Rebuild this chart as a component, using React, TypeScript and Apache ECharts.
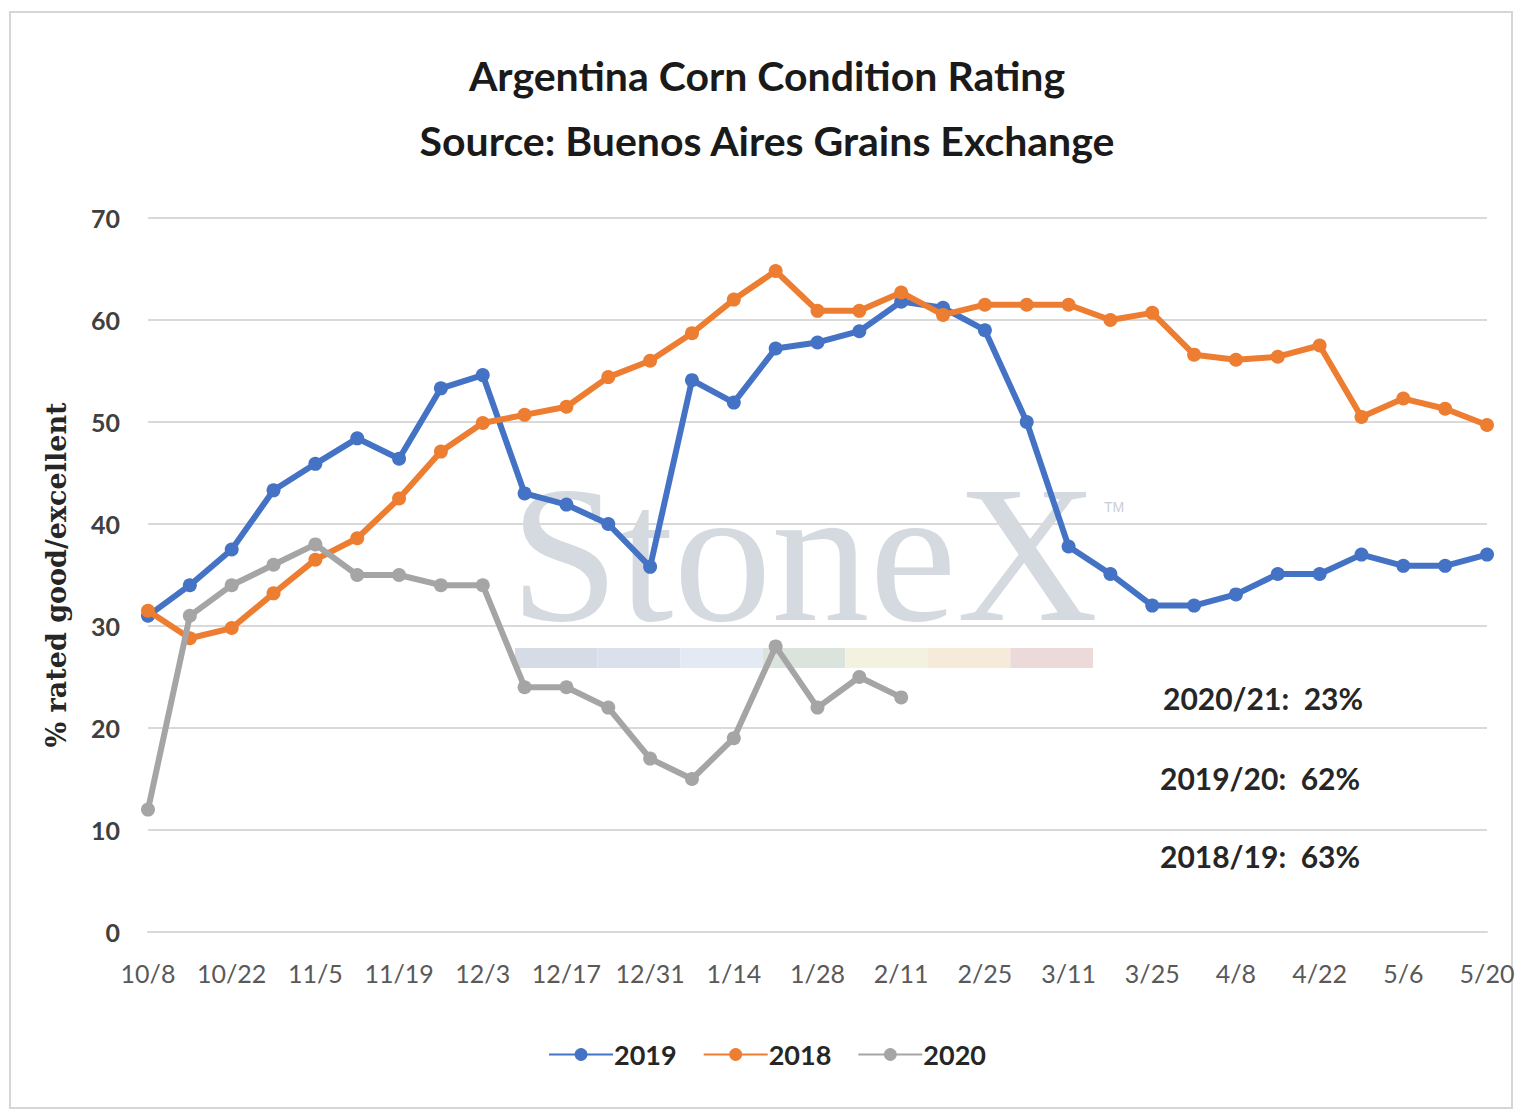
import React, { useEffect, useRef } from "react";
import * as echarts from "echarts";

const weeks = [
  "10/8", "10/15", "10/22", "10/29", "11/5", "11/12", "11/19", "11/26",
  "12/3", "12/10", "12/17", "12/24", "12/31", "1/7", "1/14", "1/21",
  "1/28", "2/4", "2/11", "2/18", "2/25", "3/4", "3/11", "3/18",
  "3/25", "4/1", "4/8", "4/15", "4/22", "4/29", "5/6", "5/13", "5/20",
];

const series2019 = [
  31, 34, 37.5, 43.3, 45.9, 48.4, 46.4, 53.3, 54.6, 43, 41.9, 40, 35.8, 54.1,
  51.9, 57.2, 57.8, 58.9, 61.8, 61.2, 59, 50, 37.8, 35.1, 32, 32, 33.1, 35.1,
  35.1, 37, 35.9, 35.9, 37,
];

const series2018 = [
  31.5, 28.8, 29.8, 33.2, 36.5, 38.6, 42.5, 47.1, 49.9, 50.7, 51.5, 54.4, 56,
  58.7, 62, 64.8, 60.9, 60.9, 62.7, 60.5, 61.5, 61.5, 61.5, 60, 60.7, 56.6,
  56.1, 56.4, 57.5, 50.5, 52.3, 51.3, 49.7,
];

const series2020 = [
  12, 31, 34, 36, 38, 35, 35, 34, 34, 24, 24, 22, 17, 15, 19, 28, 22, 25, 23,
];

const seriesNames = ["2019", "2018", "2020"];
const seriesColors = ["#4472C4", "#ED7D31", "#A5A5A5"];

const titleLines = [
  "Argentina Corn Condition Rating",
  "Source: Buenos Aires Grains Exchange",
];

const annotations = ["2020/21:  23%", "2019/20:  62%", "2018/19:  63%"];

const watermarkColors = [
  "#D6DCE6", "#DAE1EC", "#E4EAF4", "#DAE4DD", "#F3F2E1", "#F6EADB", "#ECDADA",
];

const FONT = "Lato, 'Noto Sans', sans-serif";

export default function App() {
  const ref = useRef<HTMLDivElement>(null);

  useEffect(() => {
    if (!ref.current) return;
    const chart = echarts.init(ref.current, null, { renderer: "svg" });

    const barX0 = 515;
    const barW = (1093 - 515) / watermarkColors.length;

    const option = {
      animation: false,
      backgroundColor: "#FFFFFF",
      title: titleLines.map((t, i) => ({
        text: t,
        left: "center",
        top: 50 + i * 65,
        textStyle: {
          fontFamily: FONT,
          fontWeight: "bold",
          fontSize: 41,
          color: "#1A1A1A",
        },
      })),
      grid: { left: 148, right: 47, top: 218, bottom: 186, containLabel: false },
      xAxis: {
        type: "category",
        data: weeks,
        boundaryGap: false,
        axisLine: { show: true, lineStyle: { color: "#D9D9D9", width: 2 } },
        axisTick: { show: false },
        axisLabel: {
          interval: 1,
          margin: 28,
          fontFamily: FONT,
          fontSize: 25,
          color: "#595959",
        },
        splitLine: { show: false },
      },
      yAxis: {
        type: "value",
        min: 0,
        max: 70,
        interval: 10,
        name: "% rated good/excellent",
        nameLocation: "middle",
        nameRotate: 90,
        nameGap: 78,
        nameTextStyle: {
          fontFamily: "'DejaVu Serif', serif",
          fontWeight: "bold",
          fontSize: 27,
          color: "#262626",
        },
        axisLine: { show: false },
        axisTick: { show: false },
        axisLabel: {
          margin: 28,
          fontFamily: FONT,
          fontSize: 25,
          fontWeight: "bold",
          color: "#404040",
        },
        splitLine: { lineStyle: { color: "#D9D9D9", width: 2 } },
      },
      legend: {
        data: seriesNames,
        left: "center",
        top: 1036,
        itemWidth: 64,
        itemHeight: 16,
        itemGap: 26,
        textStyle: {
          fontFamily: FONT,
          fontSize: 27,
          fontWeight: "bold",
          color: "#262626",
          padding: [0, 0, 0, -4],
        },
      },
      graphic: [
        {
          type: "rect",
          silent: true,
          z: -10,
          shape: { x: 10, y: 12, width: 1502, height: 1096 },
          style: { fill: "none", stroke: "#D6D6D6", lineWidth: 2 },
        },
        {
          type: "text",
          silent: true,
          z: -5,
          x: 510,
          y: 553,
          style: {
            text: "StoneX",
            font: "196px 'Liberation Serif', 'DejaVu Serif', serif",
            fill: "#D5DAE0",
            align: "left",
            verticalAlign: "middle",
          },
        },
        {
          type: "text",
          silent: true,
          z: -5,
          x: 1104,
          y: 507,
          style: {
            text: "TM",
            font: "14px 'Liberation Sans', sans-serif",
            fill: "#C9CED5",
            align: "left",
            verticalAlign: "middle",
          },
        },
        ...watermarkColors.map((c, i) => ({
          type: "rect",
          silent: true,
          z: -5,
          shape: { x: barX0 + i * barW, y: 648, width: barW, height: 20 },
          style: { fill: c },
        })),
        ...annotations.map((t, i) => ({
          type: "text",
          silent: true,
          z: 10,
          x: i === 0 ? 1163 : 1160,
          y: [698, 778, 856][i],
          style: {
            text: t,
            font: `bold 30px ${FONT}`,
            fill: "#262626",
            align: "left",
            verticalAlign: "middle",
          },
        })),
      ],
      series: [series2019, series2018, series2020].map((d, i) => ({
        name: seriesNames[i],
        type: "line",
        data: d,
        symbol: "circle",
        symbolSize: 14,
        showSymbol: true,
        lineStyle: { width: 6, color: seriesColors[i] },
        itemStyle: { color: seriesColors[i] },
        z: 2 + i,
      })),
    };

    chart.setOption(option as any);
    return () => chart.dispose();
  }, []);

  return (
    <div
      ref={ref}
      style={{ position: "absolute", left: 0, top: 0, width: 1534, height: 1118 }}
    />
  );
}
